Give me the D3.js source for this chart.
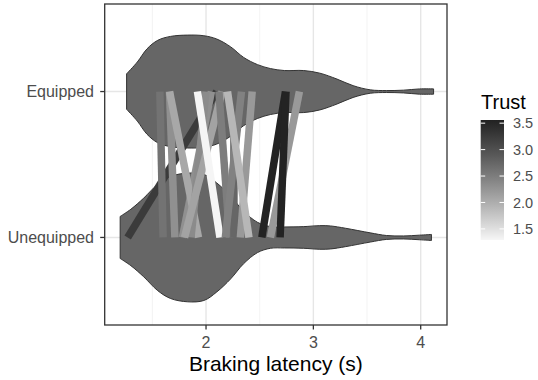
<!DOCTYPE html>
<html>
<head>
<meta charset="utf-8">
<script src="https://cdn.jsdelivr.net/npm/d3@7"></script>
<style>
    body { margin: 0; background: white; }
    text { font-family: 'Liberation Sans', Arial, sans-serif; }
</style>
</head>
<body>
<svg id="chart" width="538" height="380"></svg>
<script>
// groups on the y axis (first one sits at the bottom)
let groups = ['Unequipped', 'Equipped']

// violin outline: latency (s) and relative half width
let equippedLatency = [1.26, 1.36, 1.45, 1.55, 1.67, 1.83, 1.98, 2.10, 2.23, 2.35, 2.48, 2.60, 2.73, 2.91, 3.06, 3.22, 3.37, 3.53, 3.68, 3.84, 3.99, 4.12]
let equippedDensity = [0.27, 0.45, 0.65, 0.78, 0.84, 0.86, 0.85, 0.80, 0.68, 0.52, 0.41, 0.35, 0.32, 0.32, 0.28, 0.19, 0.09, 0.026, 0.015, 0.021, 0.04, 0.04]

let unequippedLatency = [1.20, 1.30, 1.42, 1.55, 1.67, 1.83, 1.98, 2.10, 2.23, 2.35, 2.48, 2.60, 2.73, 2.91, 3.06, 3.16, 3.30, 3.53, 3.68, 3.84, 3.99, 4.10]
let unequippedDensity = [0.32, 0.43, 0.60, 0.81, 0.93, 0.98, 0.96, 0.83, 0.63, 0.40, 0.23, 0.165, 0.16, 0.165, 0.18, 0.175, 0.14, 0.07, 0.03, 0.023, 0.035, 0.046]

// paired participant means: unequipped, equipped, trust
let pairUnequipped = [1.27, 1.60, 1.71, 1.78, 1.93, 1.86, 1.80, 2.13, 2.22, 2.26, 2.18, 2.32, 2.40, 2.60, 2.52, 2.69]
let pairEquipped   = [2.10, 1.57, 1.66, 2.05, 1.66, 2.00, 2.15, 1.92, 2.12, 2.26, 2.33, 2.43, 2.20, 2.87, 2.74, 2.745]
let pairTrust      = [3.25, 2.60, 2.30, 2.30, 2.05, 2.35, 2.10, 1.30, 2.50, 2.75, 2.45, 2.20, 1.90, 2.20, 3.55, 3.55]

let xTicks = [2, 3, 4]
let xMinor = [1.5, 2.5, 3.5]
let trustTicks = [1.5, 2.0, 2.5, 3.0, 3.5]

let svg = d3.select('#chart')

let panel = {left: 104.7, right: 447, top: 4, bottom: 325}

let x = d3.scaleLinear()
    .domain([1.056, 4.245])
    .range([panel.left, panel.right])

let y = d3.scalePoint()
    .domain(groups)
    .range([panel.bottom, panel.top])
    .padding(0.6)

let halfWidth = 0.45 * y.step()

let trustColor = d3.scaleLinear()
    .domain([1.29, 3.56])
    .range(['#f6f6f6', '#222222'])
    .interpolate(d3.interpolateLab)

//grid
svg.append('g')
    .selectAll('line')
    .data(xMinor)
    .enter()
    .append('line')
    .attr('x1', d => x(d))
    .attr('x2', d => x(d))
    .attr('y1', panel.top)
    .attr('y2', panel.bottom)
    .attr('stroke', '#f0f0f0')
    .attr('stroke-width', 0.8)

svg.append('g')
    .selectAll('line')
    .data(xTicks)
    .enter()
    .append('line')
    .attr('x1', d => x(d))
    .attr('x2', d => x(d))
    .attr('y1', panel.top)
    .attr('y2', panel.bottom)
    .attr('stroke', '#e6e6e6')
    .attr('stroke-width', 1.4)

svg.append('g')
    .selectAll('line')
    .data(groups)
    .enter()
    .append('line')
    .attr('x1', panel.left)
    .attr('x2', panel.right)
    .attr('y1', d => y(d))
    .attr('y2', d => y(d))
    .attr('stroke', '#e6e6e6')
    .attr('stroke-width', 1.4)

//violins
let violins = [
    {group: 'Equipped', lat: equippedLatency, dens: equippedDensity},
    {group: 'Unequipped', lat: unequippedLatency, dens: unequippedDensity}
]

violins.forEach(function(v){
    let pts = v.lat.map((l, i) => ({l: l, d: v.dens[i]}))
    let cy = y(v.group)
    let area = d3.area()
        .x(d => x(d.l))
        .y0(d => cy - d.d * halfWidth)
        .y1(d => cy + d.d * halfWidth)
        .curve(d3.curveCatmullRom)

    svg.append('path')
        .datum(pts)
        .attr('d', area)
        .attr('fill', '#666666')
        .attr('stroke', '#333333')
        .attr('stroke-width', 1)
})

//paired lines
let pairs = pairTrust.map((t, i) => ({u: pairUnequipped[i], e: pairEquipped[i], trust: t}))

svg.append('g')
    .selectAll('line')
    .data(pairs)
    .enter()
    .append('line')
    .attr('x1', d => x(d.u))
    .attr('y1', y('Unequipped'))
    .attr('x2', d => x(d.e))
    .attr('y2', y('Equipped'))
    .attr('stroke', d => trustColor(d.trust))
    .attr('stroke-width', 7.5)
    .attr('stroke-linecap', 'butt')

//panel border
svg.append('rect')
    .attr('x', panel.left)
    .attr('y', panel.top)
    .attr('width', panel.right - panel.left)
    .attr('height', panel.bottom - panel.top)
    .attr('fill', 'none')
    .attr('stroke', '#333333')
    .attr('stroke-width', 1.3)

//x axis
let xAxis = svg.append('g')
xAxis.selectAll('line')
    .data(xTicks)
    .enter()
    .append('line')
    .attr('x1', d => x(d))
    .attr('x2', d => x(d))
    .attr('y1', panel.bottom)
    .attr('y2', panel.bottom + 4.5)
    .attr('stroke', '#333333')
    .attr('stroke-width', 1.3)

xAxis.selectAll('text')
    .data(xTicks)
    .enter()
    .append('text')
    .attr('x', d => x(d))
    .attr('y', 348)
    .attr('text-anchor', 'middle')
    .attr('fill', '#4d4d4d')
    .attr('font-size', 16)
    .text(d => d)

svg.append('text')
    .attr('x', (panel.left + panel.right) / 2)
    .attr('y', 371)
    .attr('text-anchor', 'middle')
    .attr('fill', 'black')
    .attr('font-size', 21)
    .text('Braking latency (s)')

//y axis
let yAxis = svg.append('g')
yAxis.selectAll('line')
    .data(groups)
    .enter()
    .append('line')
    .attr('x1', panel.left - 4.5)
    .attr('x2', panel.left)
    .attr('y1', d => y(d))
    .attr('y2', d => y(d))
    .attr('stroke', '#333333')
    .attr('stroke-width', 1.3)

yAxis.selectAll('text')
    .data(groups)
    .enter()
    .append('text')
    .attr('x', 94)
    .attr('y', d => y(d))
    .attr('dy', '0.35em')
    .attr('text-anchor', 'end')
    .attr('fill', '#4d4d4d')
    .attr('font-size', 16)
    .text(d => d)

//legend
let legend = {x: 480.7, w: 23.3, top: 120, bottom: 240}

let ly = d3.scaleLinear()
    .domain(trustColor.domain())
    .range([legend.bottom, legend.top])

let grad = svg.append('defs')
    .append('linearGradient')
    .attr('id', 'trustGrad')
    .attr('x1', 0).attr('y1', 1)
    .attr('x2', 0).attr('y2', 0)

d3.range(0, 1.0001, 0.1).forEach(function(t){
    let v = trustColor.domain()[0] + t * (trustColor.domain()[1] - trustColor.domain()[0])
    grad.append('stop')
        .attr('offset', t)
        .attr('stop-color', trustColor(v))
})

svg.append('text')
    .attr('x', 481)
    .attr('y', 109)
    .attr('fill', 'black')
    .attr('font-size', 20)
    .text('Trust')

svg.append('rect')
    .attr('x', legend.x)
    .attr('y', legend.top)
    .attr('width', legend.w)
    .attr('height', legend.bottom - legend.top)
    .attr('fill', 'url(#trustGrad)')

let lt = svg.append('g')
trustTicks.forEach(function(t){
    lt.append('line')
        .attr('x1', legend.x)
        .attr('x2', legend.x + 4.5)
        .attr('y1', ly(t))
        .attr('y2', ly(t))
        .attr('stroke', 'white')
        .attr('stroke-width', 1)
    lt.append('line')
        .attr('x1', legend.x + legend.w - 4.5)
        .attr('x2', legend.x + legend.w)
        .attr('y1', ly(t))
        .attr('y2', ly(t))
        .attr('stroke', 'white')
        .attr('stroke-width', 1)
    lt.append('text')
        .attr('x', 513)
        .attr('y', ly(t))
        .attr('dy', '0.35em')
        .attr('fill', '#4d4d4d')
        .attr('font-size', 14.5)
        .text(t.toFixed(1))
})
</script>
</body>
</html>
